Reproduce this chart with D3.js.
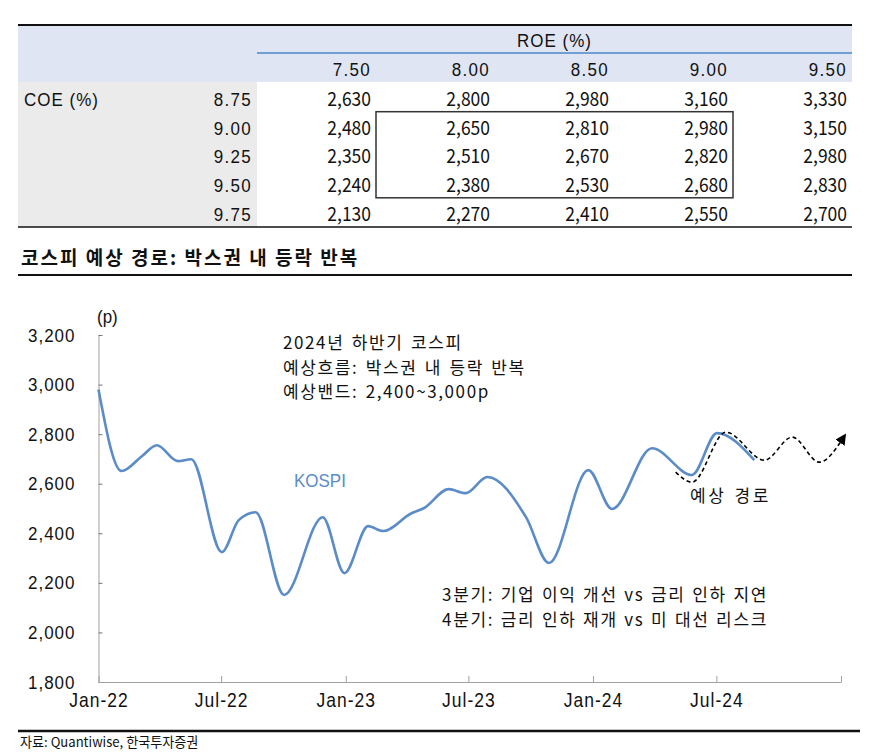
<!DOCTYPE html>
<html><head><meta charset="utf-8">
<script src="https://cdn.jsdelivr.net/npm/d3@7"></script>
<style>
html,body{margin:0;padding:0;background:#fff;}
svg{display:block;}
</style></head>
<body>
<svg id="c" width="880" height="752"></svg>
<script>
// ---------- data ----------
const roeCols = ["7.50", "8.00", "8.50", "9.00", "9.50"];
const coeRows = ["8.75", "9.00", "9.25", "9.50", "9.75"];
const row875 = [2630, 2800, 2980, 3160, 3330];
const row900 = [2480, 2650, 2810, 2980, 3150];
const row925 = [2350, 2510, 2670, 2820, 2980];
const row950 = [2240, 2380, 2530, 2680, 2830];
const row975 = [2130, 2270, 2410, 2550, 2700];
const boxRows = ["9.00", "9.50"];
const boxCols = ["8.00", "9.00"];

const kospiDates = ["2022-01-01","2022-02-04","2022-03-06","2022-03-28","2022-04-28","2022-05-18","2022-07-02","2022-07-27","2022-08-21","2022-10-02","2022-11-28","2022-12-30","2023-02-03","2023-02-25","2023-04-08","2023-04-26","2023-06-02","2023-06-27","2023-07-29","2023-09-24","2023-10-28","2023-12-25","2024-01-29","2024-03-28","2024-05-26","2024-07-02","2024-08-26"];
const kospiValues = [2980,2651,2711,2755,2691,2699,2324,2453,2485,2151,2465,2239,2429,2409,2481,2501,2578,2562,2627,2465,2280,2655,2498,2743,2635,2804,2695];

const pathDates = ["2024-05-02","2024-05-26","2024-07-15","2024-09-10","2024-10-21","2024-11-30","2025-01-04"];
const pathValues = [2647,2606,2808,2695,2788,2687,2784];

const yTicks = [1800, 2000, 2200, 2400, 2600, 2800, 3000, 3200];
const xTickDates = ["2022-01-01","2022-07-01","2023-01-01","2023-07-01","2024-01-01","2024-07-01","2025-01-01"];

const noteLines = ["2024년 하반기 코스피", "예상흐름: 박스권 내 등락 반복", "예상밴드: 2,400~3,000p"];
const riskLines = ["3분기: 기업 이익 개선 vs 금리 인하 지연", "4분기: 금리 인하 재개 vs 미 대선 리스크"];

// ---------- setup ----------
const svg = d3.select("#c");
const LAT = "'Liberation Sans', Arial, sans-serif";
const KR = "'Noto Sans CJK KR', 'Noto Sans', sans-serif";
const SY = 1.12;

function T(parent, x, y, s, o) {
  o = o || {};
  const g = parent.append("g").attr("transform", `translate(${x},${y}) scale(${o.sx || 1},${o.sy || 1})`);
  return g.append("text").text(s)
    .attr("font-family", o.ff || LAT)
    .attr("font-size", o.fs || 17)
    .attr("font-weight", o.fw || 400)
    .attr("letter-spacing", o.ls || 0)
    .attr("word-spacing", o.ws || 0)
    .attr("text-anchor", o.anchor || "start")
    .attr("fill", o.fill || "#111");
}

// ---------- table ----------
const tableRows = [row875, row900, row925, row950, row975];
const colX = d3.scaleBand().domain(roeCols).range([257, 852]);
const rowY = d3.scaleBand().domain(coeRows).range([83, 226.5]);
const tbl = svg.append("g");

tbl.append("rect").attr("x", 18).attr("y", 25).attr("width", 834).attr("height", 57).attr("fill", "#dfe5f3");
tbl.append("rect").attr("x", 18).attr("y", 82).attr("width", 239).attr("height", 145).attr("fill", "#ebebeb");
tbl.append("line").attr("x1", 18).attr("x2", 852).attr("y1", 25).attr("y2", 25).attr("stroke", "#111").attr("stroke-width", 2);
tbl.append("line").attr("x1", 18).attr("x2", 852).attr("y1", 227).attr("y2", 227).attr("stroke", "#111").attr("stroke-width", 1.6);
tbl.append("line").attr("x1", 257).attr("x2", 852).attr("y1", 53).attr("y2", 53).attr("stroke", "#6f9fd3").attr("stroke-width", 2);

T(tbl, (colX.range()[0] + colX.range()[1]) / 2, 47, "ROE (%)", {fs: 17, ls: 1, anchor: "middle", sy: SY});
roeCols.forEach(c => T(tbl, colX(c) + colX.bandwidth() - 5, 76, c, {fs: 17, ls: 1.3, anchor: "end", sy: SY}));
T(tbl, 24, rowY(coeRows[0]) + 23, "COE (%)", {fs: 17, ls: 1, sy: SY});
coeRows.forEach((r, i) => {
  const by = rowY(r) + 23;
  T(tbl, 252, by, r, {fs: 17, ls: 1.3, anchor: "end", sy: SY});
  tableRows[i].forEach((v, j) => {
    T(tbl, colX(roeCols[j]) + colX.bandwidth() - 5, by, d3.format(",")(v), {ff: KR, fs: 17.5, anchor: "end", sy: 1.1});
  });
});
// highlight box
tbl.append("rect")
  .attr("x", colX(boxCols[0])).attr("y", rowY(boxRows[0]))
  .attr("width", colX(boxCols[1]) + colX.bandwidth() - colX(boxCols[0]))
  .attr("height", rowY(boxRows[1]) + rowY.bandwidth() - rowY(boxRows[0]))
  .attr("fill", "none").attr("stroke", "#333").attr("stroke-width", 1.5);

// ---------- title ----------
T(svg, 21, 265, "코스피 예상 경로: 박스권 내 등락 반복", {ff: KR, fs: 19, fw: 700, ls: 2});
svg.append("line").attr("x1", 18).attr("x2", 852).attr("y1", 275).attr("y2", 275).attr("stroke", "#111").attr("stroke-width", 2.2);

// ---------- chart ----------
const parse = d3.timeParse("%Y-%m-%d");
const x = d3.scaleTime().domain([parse("2022-01-01"), parse("2025-01-01")]).range([98.5, 841]);
const y = d3.scaleLinear().domain([1800, 3200]).range([682, 335]);
const axisCol = "#a0a0a0";

const yAxis = svg.append("g").attr("transform", "translate(98.5,0)")
  .call(d3.axisLeft(y).tickValues(yTicks).tickFormat(d3.format(",")).tickSizeInner(-4).tickSizeOuter(0).tickPadding(23));
yAxis.select(".domain").attr("stroke", axisCol);
yAxis.selectAll(".tick line").attr("stroke", "#777");
yAxis.selectAll(".tick text").attr("font-family", LAT).attr("font-size", 17).attr("letter-spacing", 1)
  .attr("fill", "#111").attr("transform", `scale(1,${SY})`);

const xAxis = svg.append("g").attr("transform", "translate(0,682)")
  .call(d3.axisBottom(x).tickValues(xTickDates.map(parse))
    .tickFormat((d, i) => i === xTickDates.length - 1 ? "" : d3.timeFormat("%b-%y")(d))
    .tickSizeInner(-6).tickSizeOuter(0).tickPadding(10));
xAxis.select(".domain").attr("stroke", axisCol);
xAxis.selectAll(".tick line").attr("stroke", axisCol);
xAxis.selectAll(".tick text").attr("font-family", LAT).attr("font-size", 17.5).attr("letter-spacing", 1)
  .attr("fill", "#111").attr("transform", `scale(1,${SY})`);

T(svg, 97, 323, "(p)", {fs: 17, sy: SY});

const kospi = kospiDates.map((d, i) => ({d: parse(d), v: kospiValues[i]}));
const line = d3.line().x(p => x(p.d)).y(p => y(p.v)).curve(d3.curveMonotoneX);
svg.append("path").datum(kospi).attr("d", line)
  .attr("fill", "none").attr("stroke", "#5b8cc9").attr("stroke-width", 2.6).attr("stroke-linejoin", "round");

svg.append("defs").append("marker").attr("id", "arr")
  .attr("viewBox", "0 0 10 10").attr("refX", 5).attr("refY", 5)
  .attr("markerWidth", 11).attr("markerHeight", 11).attr("markerUnits", "userSpaceOnUse")
  .attr("orient", "auto")
  .append("path").attr("d", "M0,0 L10,5 L0,10 z").attr("fill", "#000");

const fpath = pathDates.map((d, i) => ({d: parse(d), v: pathValues[i]}));
svg.append("path").datum(fpath).attr("d", line)
  .attr("fill", "none").attr("stroke", "#000").attr("stroke-width", 1.6).attr("stroke-dasharray", "4,3")
  .attr("marker-end", "url(#arr)");

// ---------- annotations ----------
noteLines.forEach((s, i) => T(svg, 283, 349 + i * 24.5, s, {ff: KR, fs: 17, ls: 1.6, ws: 2}));
T(svg, 294, 487, "KOSPI", {fs: 17, fill: "#5b8cc9", sy: SY});
riskLines.forEach((s, i) => T(svg, 442, 601 + i * 25, s, {ff: KR, fs: 17, ls: 1.7, ws: 1}));
T(svg, 690, 502, "예상 경로", {ff: KR, fs: 17, ls: 2.5, ws: 2});

// ---------- source ----------
svg.append("line").attr("x1", 18).attr("x2", 860).attr("y1", 731).attr("y2", 731).attr("stroke", "#111").attr("stroke-width", 2.4);
T(svg, 20, 747, "자료: Quantiwise, 한국투자증권", {ff: KR, fs: 13.5, sx: 0.97});
</script>
</body></html>
